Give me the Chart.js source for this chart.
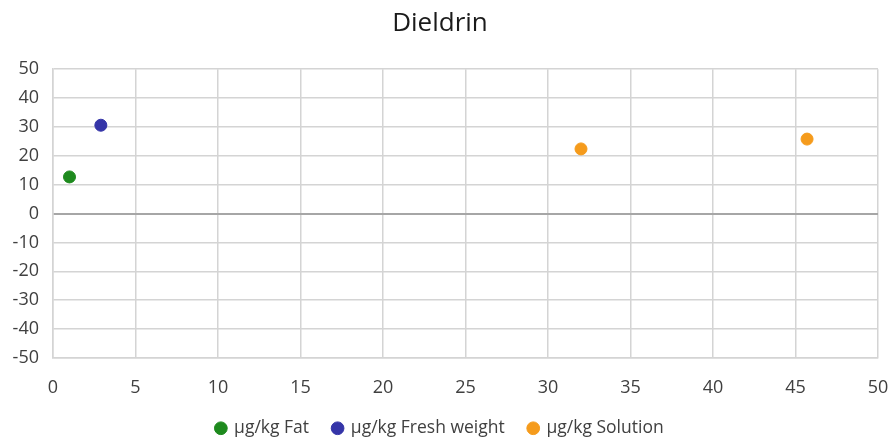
<!DOCTYPE html>
<html>
<head>
<meta charset="utf-8">
<script src="https://cdn.jsdelivr.net/npm/chart.js@4"></script>
<style>
  html, body { margin: 0; padding: 0; background: #fff; }
  #wrap { width: 893px; height: 439px; }
</style>
</head>
<body>
<div id="wrap"><canvas id="myChart"></canvas></div>
<script>
const seriesNames = ["µg/kg Fat", "µg/kg Fresh weight", "µg/kg Solution"];
const seriesColors = ["#1e8a1e", "#3535a8", "#f59b1c"];
const fatX = [1.0];
const fatY = [12.7];
const freshX = [2.9];
const freshY = [30.6];
const solutionX = [32.0, 45.7];
const solutionY = [22.4, 25.8];

const toPoints = (xs, ys) => xs.map((x, i) => ({ x: x, y: ys[i] }));
const allPoints = [toPoints(fatX, fatY), toPoints(freshX, freshY), toPoints(solutionX, solutionY)];

const ctx = document.getElementById('myChart').getContext('2d');
new Chart(ctx, {
  type: 'scatter',
  data: {
    datasets: seriesNames.map((name, i) => ({
      label: name,
      data: allPoints[i],
      backgroundColor: seriesColors[i],
      borderColor: seriesColors[i],
      pointRadius: 6,
      pointHoverRadius: 6
    }))
  },
  options: {
    responsive: true,
    maintainAspectRatio: false,
    animation: false,
    layout: { padding: { left: 2, right: 15, top: 4, bottom: -8 } },
    plugins: {
      title: {
        display: true,
        text: 'Dieldrin',
        color: '#1a1a1a',
        font: { family: 'Open Sans', size: 26, weight: 'normal' },
        padding: { top: 4, bottom: 30 }
      },
      legend: {
        position: 'bottom',
        labels: {
          usePointStyle: true,
          pointStyle: 'circle',
          boxWidth: 9,
          boxHeight: 9,
          padding: 24,
          color: '#404040',
          font: { family: 'Open Sans', size: 17.5 }
        }
      },
      tooltip: { enabled: false }
    },
    scales: {
      x: {
        type: 'linear',
        min: 0,
        max: 50,
        ticks: {
          stepSize: 5,
          color: '#404040',
          padding: 19,
          font: { family: 'Open Sans', size: 18 }
        },
        grid: { color: '#d4d4d4', lineWidth: 1.5, drawTicks: false },
        border: { color: '#d4d4d4', width: 1.5 },
        afterFit: s => { s.height = 37.5; s.paddingRight = 0; s.paddingLeft = 0; }
      },
      y: {
        min: -50,
        max: 50,
        ticks: {
          stepSize: 10,
          color: '#404040',
          padding: 14,
          font: { family: 'Open Sans', size: 18 }
        },
        grid: {
          color: c => c.tick && c.tick.value === 0 ? '#a6a6a6' : '#d4d4d4',
          lineWidth: c => c.tick && c.tick.value === 0 ? 2 : 1.5,
          drawTicks: false
        },
        border: { color: '#d4d4d4', width: 1.5 },
        afterFit: s => { s.width = 51; s.paddingTop = 0; s.paddingBottom = 0; }
      }
    }
  }
});
</script>
</body>
</html>
